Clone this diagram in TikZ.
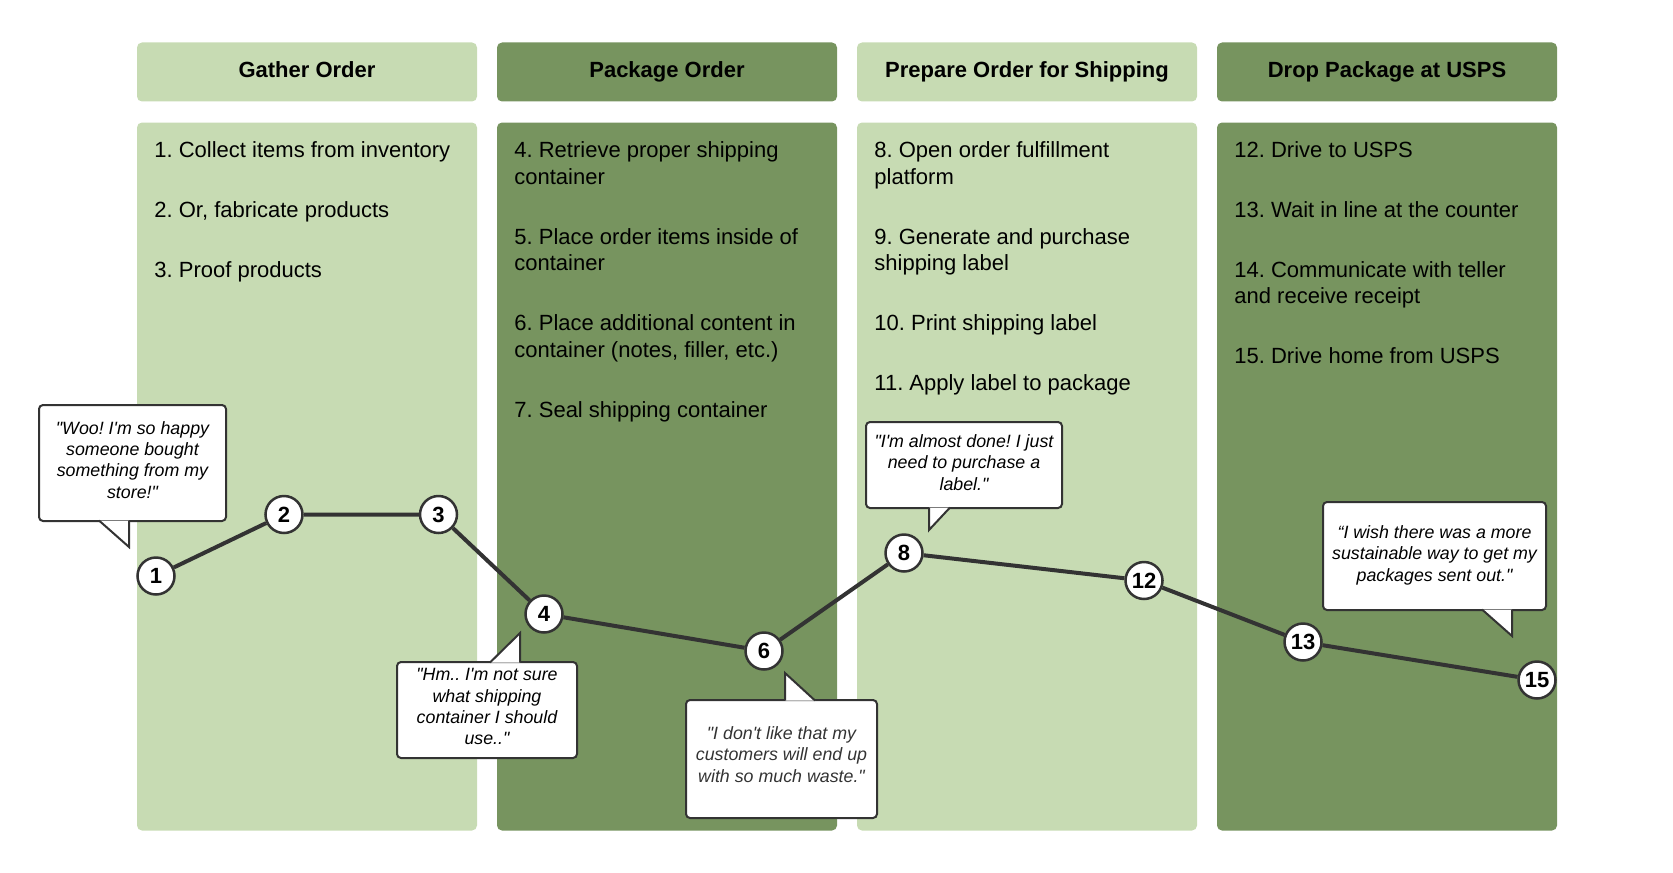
\documentclass[tikz,border=0pt]{standalone}
\usepackage{fontspec}
\setmainfont{Liberation Sans}[Ligatures=TeXOff]
\usetikzlibrary{positioning,calc}
\definecolor{sagelight}{RGB}{199,219,179}
\definecolor{sagedark}{RGB}{119,148,95}
\definecolor{inkgray}{RGB}{51,51,51}

\begin{document}
\frenchspacing
\begin{tikzpicture}[x=0.5pt, y=-0.5pt]

\tikzstyle{header} = [rectangle, rounded corners=2.5pt, outer sep=0pt, minimum width=170pt, minimum height=29.5pt, text height=0.75em, text depth=0.25em, font=\fontsize{11}{13}\selectfont\bfseries];
\tikzstyle{lane} = [rectangle, rounded corners=2.5pt, outer sep=0pt, minimum width=170pt, minimum height=354pt];
\tikzstyle{steps} = [anchor=north west, inner sep=0pt, align=left, font=\fontsize{11}{13.35}\selectfont];
\tikzstyle{quote} = [rectangle, rounded corners=2pt, draw=inkgray, line width=1pt, fill=white, inner sep=0pt];
\tikzstyle{quotetext} = [align=center, inner sep=0pt, font=\fontsize{8.9}{10.65}\selectfont\itshape];
\tikzstyle{tail} = [draw=inkgray, line width=1pt, fill=white, line join=miter];
\tikzstyle{stop} = [circle, draw=inkgray, line width=1.25pt, fill=white, minimum size=18.5pt, inner sep=0pt, font=\fontsize{11}{13}\selectfont\bfseries];

\useasboundingbox (0,0) rectangle (1673,872);

% Fasen - kop
\node (gather) [header, fill=sagelight] at (307,72) {Gather Order};
\node (package) [header, fill=sagedark, right=10pt of gather] {Package Order};
\node (prepare) [header, fill=sagelight, right=10pt of package] {Prepare Order for Shipping};
\node (drop) [header, fill=sagedark, right=10pt of prepare] {Drop Package at USPS};

% Fasen - banen
\node (gatherlane) [lane, fill=sagelight, below=10.5pt of gather] {};
\node (packagelane) [lane, fill=sagedark, below=10.5pt of package] {};
\node (preparelane) [lane, fill=sagelight, below=10.5pt of prepare] {};
\node (droplane) [lane, fill=sagedark, below=10.5pt of drop] {};

% Stappen
\node (gathersteps) [steps] at ([xshift=8.5pt, yshift=-9.5pt]gatherlane.north west) {1. Collect items from inventory\\[16.5pt]2. Or, fabricate products\\[16.5pt]3. Proof products};
\node (packagesteps) [steps] at ([xshift=8.5pt, yshift=-9.5pt]packagelane.north west) {4. Retrieve proper shipping\\container\\[16.5pt]5. Place order items inside of\\container\\[16.5pt]6. Place additional content in\\container (notes, filler, etc.)\\[16.5pt]7. Seal shipping container};
\node (preparesteps) [steps] at ([xshift=8.5pt, yshift=-9.5pt]preparelane.north west) {8. Open order fulfillment\\platform\\[16.5pt]9. Generate and purchase\\shipping label\\[16.5pt]10. Print shipping label\\[16.5pt]11. Apply label to package};
\node (dropsteps) [steps] at ([xshift=8.5pt, yshift=-9.5pt]droplane.north west) {12. Drive to USPS\\[16.5pt]13. Wait in line at the counter\\[16.5pt]14. Communicate with teller\\and receive receipt\\[16.5pt]15. Drive home from USPS};

% Reis
\node (s1) [stop] at (156,576) {1};
\node (s2) [stop] at (284,514.5) {2};
\node (s3) [stop] at (438.5,514.5) {3};
\node (s4) [stop] at (544,614) {4};
\node (s6) [stop] at (764,651) {6};
\node (s8) [stop] at (904,553) {8};
\node (s12) [stop] at (1144,580.5) {12};
\node (s13) [stop] at (1303,642) {13};
\node (s15) [stop] at (1537,680) {15};
\draw[inkgray, line width=2pt] (s1) -- (s2) -- (s3) -- (s4) -- (s6) -- (s8) -- (s12) -- (s13) -- (s15);

% Gedachten
\node (woo) [quote, minimum width=93.5pt, minimum height=58pt] at (132.5,463) {};
\node [quotetext] at ([yshift=1.6pt]woo.center) {"Woo! I'm so happy\\someone bought\\something from my\\store!"};
\coordinate (wootip) at (129,547);
\draw[tail] ($(wootip |- woo.south)+(-30,-1.5)$) -- (wootip) -- ($(wootip |- woo.south)+(0,-1.5)$);

\node (hm) [quote, minimum width=90pt, minimum height=48pt] at (487,710) {};
\node [quotetext] at ([yshift=1.6pt]hm.center) {"Hm.. I'm not sure\\what shipping\\container I should\\use.."};
\coordinate (hmtip) at (520,633);
\draw[tail] ($(hmtip |- hm.north)+(-30,1.5)$) -- (hmtip) -- ($(hmtip |- hm.north)+(0,1.5)$);

\node (waste) [quote, minimum width=95.5pt, minimum height=59pt] at (781.5,759) {};
\node [quotetext, text=inkgray] at ([yshift=2.2pt]waste.center) {"I don't like that my\\customers will end up\\with so much waste."};
\coordinate (wastetip) at (785,673);
\draw[tail] ($(wastetip |- waste.north)+(0,1.5)$) -- (wastetip) -- ($(wastetip |- waste.north)+(30,1.5)$);

\node (almost) [quote, minimum width=98pt, minimum height=43pt] at (964,465) {};
\node [quotetext] at ([yshift=1.2pt]almost.center) {"I'm almost done! I just\\need to purchase a\\label."};
\coordinate (almosttip) at (929,530);
\draw[tail] ($(almosttip |- almost.south)+(0,-1.5)$) -- (almosttip) -- ($(almosttip |- almost.south)+(21,-1.5)$);

\node (wish) [quote, minimum width=111.5pt, minimum height=54pt] at (1434.5,556) {};
\node [quotetext] at ([yshift=0.4pt]wish.center) {“I wish there was a more\\sustainable way to get my\\packages sent out."};
\coordinate (wishtip) at (1512,636);
\draw[tail] ($(wishtip |- wish.south)+(-30,-1.5)$) -- (wishtip) -- ($(wishtip |- wish.south)+(0,-1.5)$);

\end{tikzpicture}
\end{document}
